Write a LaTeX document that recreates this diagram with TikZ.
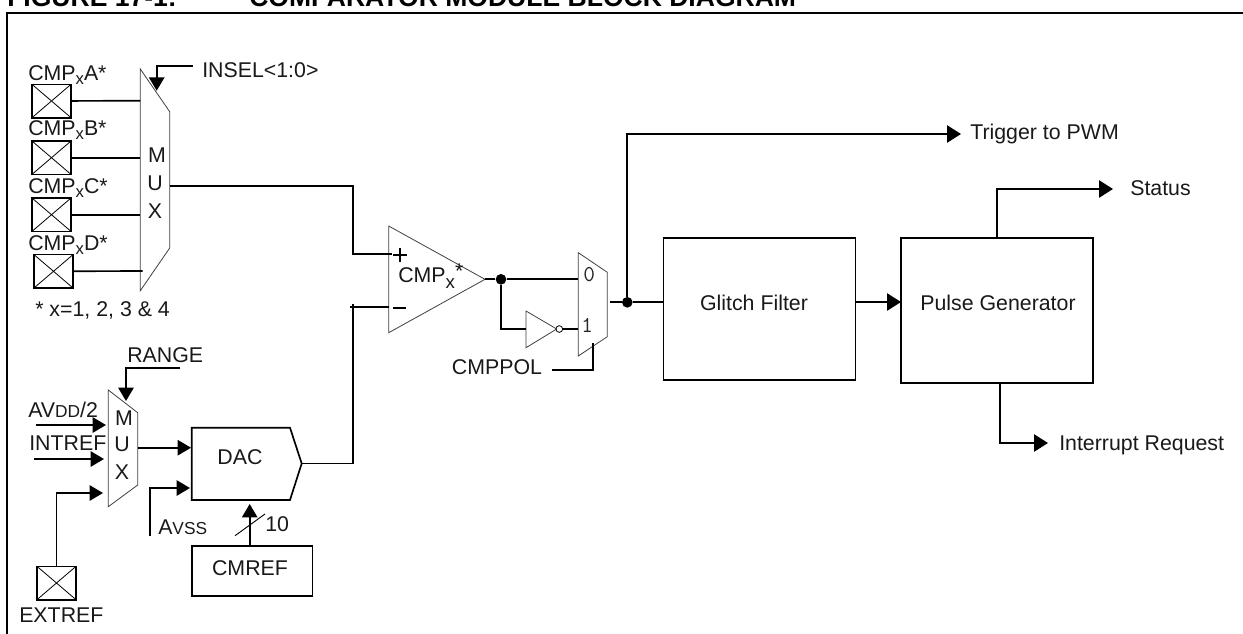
\documentclass[tikz,border=0pt]{standalone}
\usepackage{fontspec}
\setmainfont{Liberation Sans}
\usetikzlibrary{arrows.meta}
\tikzset{
  x=0.75pt,y=-0.75pt,
  wire/.style={line width=1.25pt,line cap=butt,line join=miter},
  arr/.style={wire,-{Triangle[length=10pt,width=11.5pt]}},
  bigarr/.style={wire,-{Triangle[length=10.5pt,width=13pt]}},
  thin shape/.style={draw=black!75,line width=0.6pt,fill=white},
  blockbox/.style={draw,line width=1.25pt,fill=white},
  txt/.style={inner sep=0pt,font=\fontsize{16}{18}\selectfont,text=black!90},
  digit/.style={anchor=center,inner sep=0pt,font=\ttfamily\fontsize{17}{19}\selectfont,text=black!85},
  pad/.style={draw,line width=1.25pt,minimum width=29.25pt,minimum height=25pt,inner sep=0pt,fill=white,
    path picture={\draw[line width=0.6pt] (path picture bounding box.north west)--(path picture bounding box.south east)
      (path picture bounding box.north east)--(path picture bounding box.south west);}},
  junction/.style={circle,fill=black,inner sep=0pt,minimum size=8pt},
}
\newcommand{\subx}{\raisebox{-3.2pt}{\fontsize{12.5}{14}\selectfont x}}
\newcommand{\smallcaps}[1]{{\fontsize{13}{15}\selectfont #1}}
\begin{document}
\begin{tikzpicture}
\useasboundingbox (0,0) rectangle (1243,633);
\begin{scope}
\clip (0,0) rectangle (1243,633);
\node[anchor=base west,inner sep=0pt,font=\bfseries\fontsize{19.9}{22}\selectfont] (title) at (7,6) {FIGURE 17-1:};
\node[anchor=base west,inner sep=0pt,font=\bfseries\fontsize{19.9}{22}\selectfont] (title2) at (249,6) {COMPARATOR MODULE BLOCK DIAGRAM};
\draw[line width=1.5pt] (7,640) -- (7,13) -- (1250,13);
\end{scope}

% input mux
\draw[thin shape] (140.3,69) -- (169.7,111.7) -- (169.7,248) -- (140.3,290.7) -- cycle;
\coordinate (muxW1) at (140.3,100.7); \coordinate (muxW2) at (140.3,157.7);
\coordinate (muxW3) at (140.3,214.7); \coordinate (muxW4) at (142.7,271);
\coordinate (muxE) at (169.7,185.7);
\node[txt] (mM) at (157,155) {M};
\node[txt] (mU) at (155,183) {U};
\node[txt] (mX) at (155,211) {X};

\node[pad] (pA) at (51.5,101) {};
\node[pad] (pB) at (51.5,157.7) {};
\node[pad] (pC) at (51.5,214.7) {};
\node[pad] (pD) at (53.5,271.3) {};
\node[txt,anchor=base west] (lA) at (28,80) {CMP\subx A*};
\node[txt,anchor=base west] (lB) at (28,135) {CMP\subx B*};
\node[txt,anchor=base west] (lC) at (28,193) {CMP\subx C*};
\node[txt,anchor=base west] (lD) at (28,250) {CMP\subx D*};
\node[txt,anchor=base west] (note) at (35,316.7) {* x=1, 2, 3 \& 4};
\draw[wire] (pA) -- (muxW1);
\draw[wire] (pB) -- (muxW2);
\draw[wire] (pC) -- (muxW3);
\draw[wire] (pD) -- (muxW4);

\node[txt,anchor=base west] (insel) at (202,77.7) {INSEL<1:0>};
\coordinate (inselS) at (193,65.7);
\coordinate (inselT) at (156.7,90.7);
\draw[arr] (inselS) -| (inselT);

% comparator
\draw[thin shape] (388.7,226) -- (485,279.3) -- (388.7,332.7) -- cycle;
\coordinate (cmpP) at (391.7,254); \coordinate (cmpN) at (388.7,306.7); \coordinate (cmpO) at (485,279.3);
\node[txt,anchor=base west] (cmpL) at (398,282.7) {CMP\raisebox{-4pt}{\fontsize{14}{16}\selectfont x}\raisebox{3pt}{*}};
\draw[line width=1.25pt] (393,255) -- (406.5,255) (399.7,248) -- (399.7,262);
\draw[line width=1.25pt] (393,308) -- (406,308);
\coordinate (cmpElbow) at (352.7,185.7);
\draw[wire] (muxE) -- (cmpElbow) |- (cmpP);

% lower mux
\draw[thin shape] (108.3,390) -- (137.7,412.7) -- (137.7,485) -- (108.3,506.7) -- cycle;
\node[txt] (m2M) at (124,418) {M};
\node[txt] (m2U) at (122,444.5) {U};
\node[txt] (m2X) at (122,472) {X};
\coordinate (rangeS) at (180,367.7);
\coordinate (rangeT) at (126,401);
\node[txt,anchor=base west] (range) at (127,362) {RANGE};
\draw[arr] (rangeS) -| (rangeT);

\coordinate (avddS) at (36,425); \coordinate (avddT) at (106,425);
\coordinate (intS) at (34,459); \coordinate (intT) at (104,459);
\coordinate (extT) at (103,493);
\node[txt,anchor=base west] (avdd) at (28,417) {AV\smallcaps{DD}/2};
\node[txt,anchor=base west] (intref) at (29,450) {INTREF};
\draw[arr] (avddS) -- (avddT);
\draw[arr] (intS) -- (intT);
\node[pad] (pE) at (56.5,583) {};
\node[txt,anchor=base west] (extref) at (19,622) {EXTREF};
\draw[arr] (pE.north) |- (extT);

% DAC
\draw[blockbox] (191.7,427.7) -- (290,427.7) -- (301.7,463.5) -- (290,500) -- (191.7,500) -- cycle;
\node[txt] (dac) at (240,457) {DAC};
\coordinate (dacW1) at (191,447.7); \coordinate (dacW2) at (190,488);
\coordinate (dacE) at (302,463.5); \coordinate (dacS) at (249.7,504);
\coordinate (muxbE) at (137.7,447.7);
\draw[arr] (muxbE) -- (dacW1);
\coordinate (avssS) at (149.7,535.7);
\draw[arr] (avssS) |- (dacW2);
\node[txt,anchor=base west] (avss) at (158,534) {A\smallcaps{VSS}};
\node[blockbox,minimum width=90.5pt,minimum height=37.3pt,inner sep=0pt] (cmref) at (252,571) {};
\node[txt] (cmreft) at (250,568) {CMREF};
\draw[arr] (cmref.north -| dacS) -- (dacS);
\draw[line width=0.7pt] (235,535.7) -- (265,514);
\node[txt,anchor=base west] (ten) at (265,531) {10};
\coordinate (negC) at (352.7,463.5);
\coordinate (negT) at (352.7,304);
\coordinate (negL) at (350,306.7);
\draw[wire] (dacE) -- (negC);
\draw[wire] (negC) -- (negT);
\draw[wire] (negL) -- (cmpN);

% polarity mux
\draw[thin shape] (578.3,252.7) -- (607.3,272.3) -- (607.3,336.7) -- (578.3,356) -- cycle;
\node[digit] (z) at (589.3,275) {0};
\node[digit] (o) at (587.3,325) {1};
\node[junction] (j1) at (501,279.3) {};
\draw[wire] (cmpO) -- (j1);
\coordinate (pmw0) at (578.3,279.3);
\draw[wire] (j1) -- (pmw0);
% inverter
\draw[thin shape] (526,311) -- (556.7,329) -- (526,347.7) -- cycle;
\node[circle,draw,line width=0.6pt,inner sep=0pt,minimum size=5pt,fill=white] (bub) at (559.3,329) {};
\coordinate (invW) at (526,329.3);
\coordinate (pmw1) at (578.3,329);
\draw[wire] (j1) |- (invW);
\draw[wire] (bub) -- (pmw1);
\node[txt,anchor=base west] (pol) at (451.7,374) {CMPPOL};
\coordinate (polS) at (552,369.7); \coordinate (polT) at (593.3,343.3);
\draw[wire] (polS) -| (polT);

% right section
\node[junction] (j2) at (627.3,302.3) {};
\coordinate (pmE) at (610,302.3);
\draw[wire] (pmE) -- (j2);
\node[blockbox,minimum width=144pt,minimum height=106.5pt,inner sep=0pt] (gf) at (759.5,309) {};
\node[txt] (gft) at (754,302.5) {Glitch Filter};
\node[blockbox,minimum width=144pt,minimum height=108.5pt,inner sep=0pt] (pg) at (997,310.5) {};
\node[txt] (pgt) at (998,302.5) {Pulse Generator};
\draw[wire] (j2) -- (gf.west |- j2);
\coordinate (pgW) at (901,302);
\coordinate (gfE) at (856,302);
\draw[bigarr] (gfE) -- (pgW);
\coordinate (trigT) at (961,134);
\node[txt,anchor=base west] (trig) at (970,139.5) {Trigger to PWM};
\draw[bigarr] (j2) |- (trigT);
\coordinate (statT) at (1113,189);
\node[txt,anchor=base west] (stat) at (1130,195.5) {Status};
\coordinate (statS) at (997,238);
\draw[bigarr] (statS) |- (statT);
\coordinate (irqT) at (1048,443);
\coordinate (irqS) at (1000,383);
\node[txt,anchor=base west] (irq) at (1059,450) {Interrupt Request};
\draw[bigarr] (irqS) |- (irqT);
\end{tikzpicture}
\end{document}
